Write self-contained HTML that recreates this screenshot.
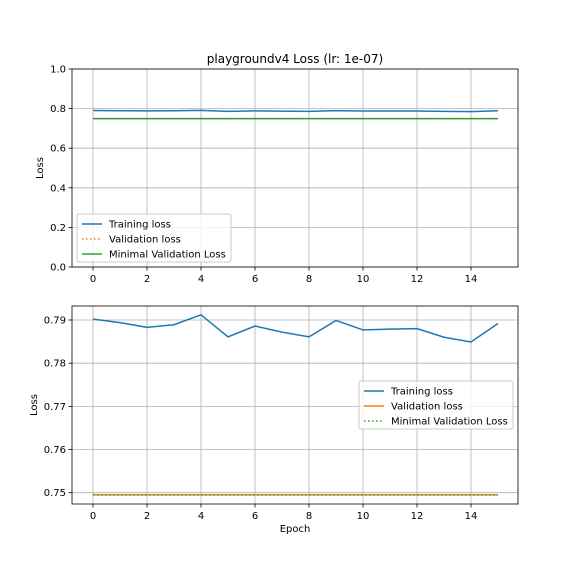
<!DOCTYPE html>
<html><head><meta charset="utf-8"><style>body{margin:0;background:#fff}svg{display:block;font-family:"DejaVu Sans","Liberation Sans",sans-serif}</style></head>
<body>
<svg id="c" width="576" height="576" viewBox="0 0 576 576"></svg>
<script>
const epochs=[0,1,2,3,4,5,6,7,8,9,10,11,12,13,14,15];
const trainLoss=[0.7902,0.7894,0.7883,0.7889,0.7912,0.7861,0.7886,0.7872,0.7861,0.7899,0.7877,0.7879,0.7880,0.7860,0.7849,0.7892];
const valLoss=[0.7495,0.7495,0.7495,0.7495,0.7495,0.7495,0.7495,0.7495,0.7495,0.7495,0.7495,0.7495,0.7495,0.7495,0.7495,0.7495];
const minVal=0.7495;
const xTicks=[0,2,4,6,8,10,12,14];
const topYTicks=[0,0.2,0.4,0.6,0.8,1.0];
const botYTicks=[0.75,0.76,0.77,0.78,0.79];
const NS='http://www.w3.org/2000/svg';
const svg=document.getElementById('c');
function mk(t,a,p){const e=document.createElementNS(NS,t);for(const k in a)e.setAttribute(k,a[k]);(p||svg).appendChild(e);return e;}
const X=v=>93+(v-0)*27;
function panel(top,bot,y0,y1,ticks,fmt,name){
  const Y=v=>bot-(v-y0)/(y1-y0)*(bot-top);
  const g=mk('g',{});
  
  
  xTicks.forEach(t=>{mk('line',{x1:X(t),x2:X(t),y1:top,y2:bot,stroke:'#b0b0b0','stroke-width':0.8},g);
    mk('line',{x1:X(t),x2:X(t),y1:bot,y2:bot+3.5,stroke:'#000','stroke-width':0.8},g);
    const tx=mk('text',{x:X(t),y:bot+15,'font-size':10,'text-anchor':'middle'},g);tx.textContent=t;
    });
  ticks.forEach(t=>{mk('line',{x1:72,x2:518,y1:Y(t),y2:Y(t),stroke:'#b0b0b0','stroke-width':0.8},g);
    mk('line',{x1:68.5,x2:72,y1:Y(t),y2:Y(t),stroke:'#000','stroke-width':0.8},g);
    const tx=mk('text',{x:66,y:Y(t)+3.5,'font-size':10,'text-anchor':'end'},g);tx.textContent=fmt(t);
    });
  return {g,Y};
}
function line(g,Y,vals,color,dash,name){
  const p=mk('polyline',{points:vals.map((v,i)=>X(epochs[i])+','+Y(v)).join(' '),fill:'none',stroke:color,'stroke-width':1.5,'stroke-dasharray':dash||'none'},g);
  
}
function legend(x,y,items){
  const g=mk('g',{});
  
  mk('rect',{x:x,y:y,width:154,height:48,rx:2,fill:'#fff','fill-opacity':0.8,stroke:'#ccc'},g);
  items.forEach((it,i)=>{const yy=y+10+i*15;
    mk('line',{x1:x+5,x2:x+25,y1:yy,y2:yy,stroke:it[1],'stroke-width':1.5,'stroke-dasharray':it[2]||'none'},g);
    const t=mk('text',{x:x+32,y:yy+3.5,'font-size':10},g);t.textContent=it[0];
    });
}
// top
let a=panel(69,267,0,1,topYTicks,v=>v.toFixed(1),'top-panel');
line(a.g,a.Y,valLoss,'#ff7f0e','1.5,2.5','validation-loss-top');
line(a.g,a.Y,epochs.map(()=>minVal),'#2ca02c',null,'min-val-loss-top');
line(a.g,a.Y,trainLoss,'#1f77b4',null,'training-loss-top');
mk('rect',{x:72,y:69,width:446,height:198,fill:'none',stroke:'#000','stroke-width':0.8});
legend(77,214,[['Training loss','#1f77b4'],['Validation loss','#ff7f0e','1.5,2.5'],['Minimal Validation Loss','#2ca02c']]);
let t=mk('text',{x:295,y:63,'font-size':12,'text-anchor':'middle'});t.textContent='playgroundv4 Loss (lr: 1e-07)';

t=mk('text',{x:0,y:0,'font-size':10,'text-anchor':'middle',transform:'translate(43,168) rotate(-90)'});t.textContent='Loss';

// bottom
let b=panel(306,504,0.75-(504-492.7)/4318,0.79+(320-306)/4318,botYTicks,v=>v.toFixed(2),'bottom-panel');
line(b.g,b.Y,valLoss,'#ff7f0e',null,'validation-loss-bottom');
line(b.g,b.Y,epochs.map(()=>minVal),'#2ca02c','1.5,2.5','min-val-loss-bottom');
line(b.g,b.Y,trainLoss,'#1f77b4',null,'training-loss-bottom');
mk('rect',{x:72,y:306,width:446,height:198,fill:'none',stroke:'#000','stroke-width':0.8});
legend(359,381,[['Training loss','#1f77b4'],['Validation loss','#ff7f0e'],['Minimal Validation Loss','#2ca02c','1.5,2.5']]);
t=mk('text',{x:0,y:0,'font-size':10,'text-anchor':'middle',transform:'translate(37,405) rotate(-90)'});t.textContent='Loss';

t=mk('text',{x:295,y:532,'font-size':10,'text-anchor':'middle'});t.textContent='Epoch';

</script>
</body></html>
